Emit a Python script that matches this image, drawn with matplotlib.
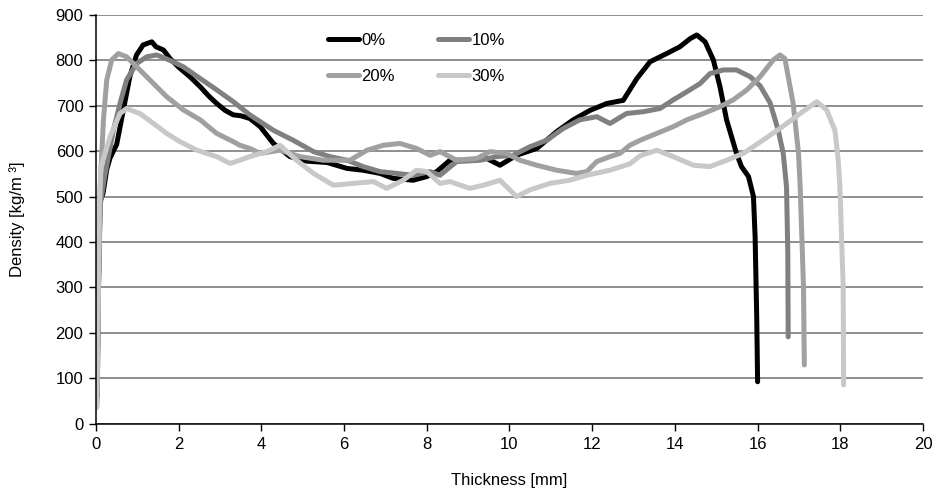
import matplotlib
matplotlib.use("Agg")
import matplotlib.pyplot as plt

plt.rcParams['font.family'] = ['Liberation Sans', 'DejaVu Sans']

# ---- data ----
x_0 = [0.03, 0.06, 0.1, 0.17, 0.26, 0.34, 0.5, 0.66, 0.82, 0.98, 1.14, 1.35, 1.45, 1.63, 1.79,
       2.0, 2.27, 2.52, 2.72, 2.92, 3.12, 3.32, 3.5, 3.72, 3.97, 4.29, 4.69, 5.1, 5.59, 6.07,
       6.46, 6.87, 7.19, 7.67, 8.0, 8.24, 8.56, 9.04, 9.45, 9.77, 10.17, 10.66, 11.14, 11.54,
       11.95, 12.35, 12.75, 13.08, 13.4, 13.8, 14.12, 14.37, 14.53, 14.73, 14.93, 15.09, 15.25,
       15.49, 15.61, 15.78, 15.9, 15.94, 15.98, 16.0]
y_0 = [60, 300, 490, 507, 560, 585, 615, 690, 765, 812, 834, 841, 830, 823, 804,
       785, 764, 742, 722, 705, 690, 680, 678, 672, 654, 617, 588, 578, 575, 562,
       558, 551, 540, 536, 544, 555, 580, 580, 584, 569, 591, 606, 643, 669,
       690, 705, 712, 760, 797, 815, 830, 848, 856, 841, 801, 742, 669,
       595, 566, 544, 500, 411, 228, 92]

x_10 = [0.02, 0.05, 0.1, 0.2, 0.42, 0.58, 0.74, 0.98, 1.23, 1.47, 1.79, 2.11, 2.52, 2.92, 3.32,
        3.72, 3.97, 4.29, 4.77, 5.26, 5.66, 6.07, 6.46, 6.87, 7.27, 7.67, 8.08, 8.32, 8.72,
        9.29, 9.69, 10.09, 10.5, 10.9, 11.3, 11.7, 12.11, 12.43, 12.83, 13.24, 13.64, 13.96,
        14.29, 14.61, 14.85, 15.17, 15.49, 15.82, 16.06, 16.3, 16.5, 16.62, 16.7, 16.73, 16.74]
y_10 = [40, 250, 480, 540, 646, 705, 757, 793, 808, 812, 800, 786, 760, 735, 709,
        680, 665, 646, 624, 599, 588, 580, 566, 555, 551, 547, 555, 547, 577,
        580, 588, 591, 610, 624, 650, 669, 676, 661, 683, 687, 694, 713,
        731, 749, 771, 779, 779, 764, 744, 707, 646, 595, 521, 375, 191]

x_20 = [0.02, 0.06, 0.1, 0.18, 0.26, 0.38, 0.54, 0.74, 1.06, 1.39, 1.71, 2.11, 2.52, 2.92, 3.32,
        3.48, 3.72, 3.97, 4.45, 4.93, 5.5, 6.14, 6.55, 6.95, 7.35, 7.75, 8.08, 8.32, 8.72,
        9.21, 9.53, 9.93, 10.25, 10.66, 11.14, 11.62, 11.87, 12.11, 12.43, 12.67, 12.91,
        13.16, 13.56, 13.96, 14.29, 14.69, 15.09, 15.41, 15.74, 16.06, 16.38, 16.54, 16.66,
        16.86, 16.99, 17.03, 17.11, 17.13]
y_20 = [50, 300, 520, 669, 757, 801, 815, 808, 779, 749, 720, 691, 669, 639, 621,
        613, 606, 595, 602, 588, 580, 580, 602, 613, 617, 606, 591, 599, 580,
        584, 599, 595, 580, 569, 558, 551, 555, 577, 588, 595, 613,
        624, 639, 654, 669, 683, 698, 713, 735, 764, 801, 812, 804,
        705, 595, 521, 301, 129]

x_30 = [0.02, 0.05, 0.08, 0.12, 0.34, 0.58, 0.74, 1.06, 1.39, 1.71, 2.03, 2.44, 2.92, 3.24, 3.48,
        3.72, 3.97, 4.13, 4.45, 4.85, 5.26, 5.74, 6.22, 6.71, 7.03, 7.43, 7.75, 8.0, 8.32,
        8.56, 9.04, 9.37, 9.77, 10.17, 10.5, 10.98, 11.46, 11.87, 12.43, 12.91, 13.16, 13.56,
        13.96, 14.45, 14.85, 15.25, 15.65, 16.06, 16.54, 17.03, 17.43, 17.67, 17.87, 17.95,
        17.99, 18.07, 18.08]
y_30 = [35, 250, 480, 566, 632, 683, 694, 683, 661, 639, 621, 602, 588, 573, 580,
        588, 595, 599, 613, 580, 551, 525, 529, 533, 518, 536, 558, 555, 529,
        533, 518, 525, 536, 500, 515, 529, 536, 547, 558, 572, 590, 602,
        588, 569, 566, 580, 595, 620, 650, 683, 709, 691, 646, 580,
        521, 301, 85]

labels = ['0%', '10%', '20%', '30%']
colors = ['#000000', '#808080', '#a0a0a0', '#c8c8c8']
x_ticks = list(range(0, 21, 2))
y_ticks = list(range(0, 901, 100))

fig = plt.figure(figsize=(9.37, 4.9), dpi=100)
ax = fig.add_axes([96 / 937, 1 - 423.5 / 490, (923 - 96) / 937, (423.5 - 15) / 490])

series = [(x_0, y_0), (x_10, y_10), (x_20, y_20), (x_30, y_30)]
lines = []
for (xs, ys), lab, c in zip(series, labels, colors):
    ln, = ax.plot(xs, ys, color=c, lw=3.6, label=lab, solid_capstyle='round',
                  solid_joinstyle='round')
    lines.append(ln)

ax.set_xlim(0, 20)
ax.set_ylim(0, 900)
ax.set_xticks(x_ticks)
ax.set_yticks(y_ticks)
ax.tick_params(axis='both', labelsize=12, direction='out', length=5, width=1, color='black')
ax.tick_params(axis='x', pad=5)
ax.tick_params(axis='y', pad=4)
ax.yaxis.grid(True, color='#707070', lw=1.1)
ax.set_axisbelow(True)
for s in ['top', 'right']:
    ax.spines[s].set_visible(False)
for s in ['left', 'bottom']:
    ax.spines[s].set_color('black')
    ax.spines[s].set_linewidth(1.1)

ax.set_xlabel('Thickness [mm]', fontsize=12, labelpad=15)
ax.set_ylabel('Density [kg/m ³]', fontsize=12, labelpad=22)

order = [0, 2, 1, 3]
leg = fig.legend([lines[i] for i in order], [labels[i] for i in order], ncol=2,
                 loc='upper left', bbox_to_anchor=(328 / 937, 1 - 33 / 490),
                 frameon=False, fontsize=12, handlelength=1.85, handletextpad=0.15,
                 columnspacing=2.6, labelspacing=1.25, borderpad=0, borderaxespad=0)

fig.savefig('out.png', dpi=100)
